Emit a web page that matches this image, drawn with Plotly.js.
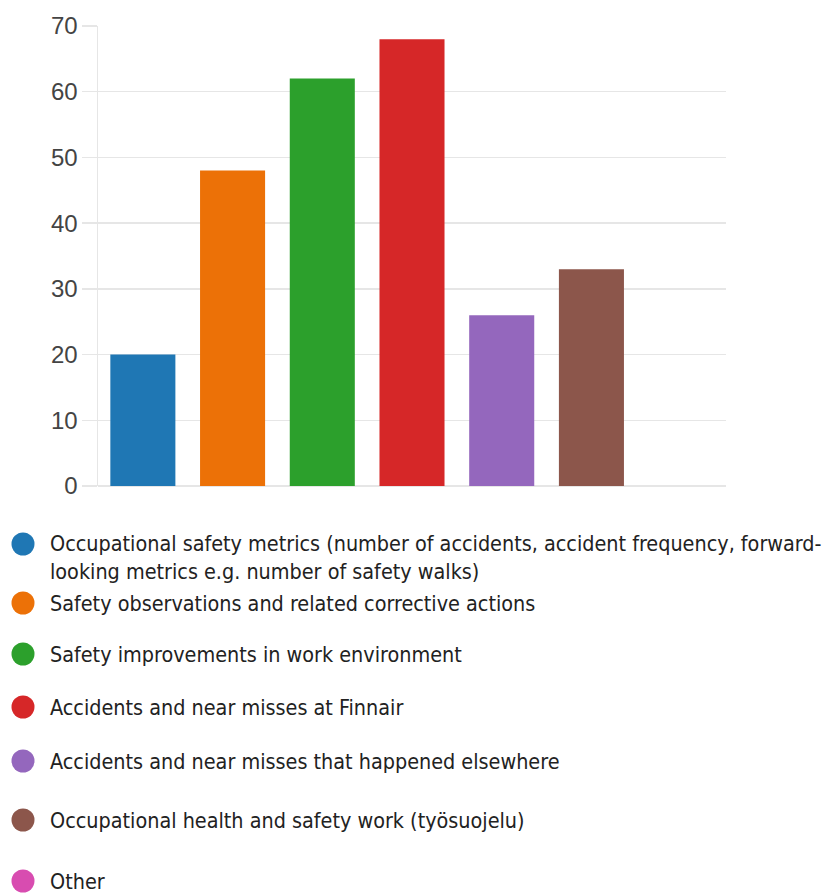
<!DOCTYPE html>
<html>
<head>
<meta charset="utf-8">
<script src="https://cdn.plot.ly/plotly-3.0.1.min.js"></script>
<style>html,body{margin:0;padding:0;background:#fff;}#chart{width:822px;height:893px;}</style>
</head>
<body>
<div id="chart"></div>
<script>
const categories = [
  "Occupational safety metrics (number of accidents, accident frequency, forward-<br>looking metrics e.g. number of safety walks)",
  "Safety observations and related corrective actions",
  "Safety improvements in work environment",
  "Accidents and near misses at Finnair",
  "Accidents and near misses that happened elsewhere",
  "Occupational health and safety work (työsuojelu)",
  "Other"
];
const values = [20, 48, 62, 68, 26, 33, 0];
const colors = ["#1f77b4", "#ec7107", "#2ca02c", "#d62728", "#9467bd", "#8c564b", "#d84cb0"];
const yTicks = [0, 10, 20, 30, 40, 50, 60, 70];

// legend layout (pixel rows of the key below the plot)
const W = 822, H = 893;
const M = {l: 98, r: 96, t: 26, b: 407};
const legendRowsPx = [544, 603, 654, 707, 761, 820, 881];
const legendDotX = 23, legendDotR = 11.5, legendTextX = 48;
const legendFont = 21.4, legendLine = 1.3 * legendFont;

const pw = W - M.l - M.r, ph = H - M.t - M.b;
const px2x = p => (p - M.l) / pw;
const px2y = p => (H - M.b - p) / ph;

const xIdx = categories.map((c, i) => i);
const traces = [{
  type: "bar",
  x: xIdx,
  y: values,
  marker: {color: colors},
  showlegend: false,
  hoverinfo: "skip"
}];

const shapes = [], annotations = [];
categories.forEach((c, i) => {
  const cy = legendRowsPx[i];
  shapes.push({
    type: "circle", xref: "paper", yref: "paper",
    x0: px2x(legendDotX - legendDotR), x1: px2x(legendDotX + legendDotR),
    y0: px2y(cy + legendDotR), y1: px2y(cy - legendDotR),
    fillcolor: colors[i], line: {width: 0}
  });
  const nLines = c.split("<br>").length;
  annotations.push({
    xref: "paper", yref: "paper",
    x: px2x(legendTextX), xanchor: "left",
    y: px2y(cy + (nLines - 1) * legendLine / 2), yanchor: "middle",
    text: c, showarrow: false, align: "left",
    font: {family: "Liberation Sans Narrow, DejaVu Sans Condensed, sans-serif", size: legendFont, color: "#222"}
  });
});

const layout = {
  width: W, height: H,
  margin: {l: M.l, r: M.r, t: M.t, b: M.b, autoexpand: false},
  paper_bgcolor: "#fff", plot_bgcolor: "#fff",
  bargap: 0.275,
  showlegend: false,
  xaxis: {
    type: "linear", range: [-0.5, 6.5],
    showticklabels: false, showgrid: false, zeroline: false, showline: false, ticks: ""
  },
  yaxis: {
    range: [0, 70], tickvals: yTicks, ticktext: yTicks.map(String),
    showgrid: true, gridcolor: "#e6e6e6", gridwidth: 1.5,
    zeroline: true, zerolinecolor: "#e6e6e6", zerolinewidth: 1.5,
    showline: true, linecolor: "#e6e6e6", linewidth: 1.5,
    ticks: "outside", ticklen: 15, tickcolor: "#e6e6e6", tickwidth: 1.5,
    ticklabelstandoff: -1,
    tickfont: {family: "Liberation Sans Narrow, sans-serif", size: 24, color: "#444"}
  },
  shapes: shapes,
  annotations: annotations
};

Plotly.newPlot("chart", traces, layout, {displayModeBar: false, staticPlot: true});
</script>
</body>
</html>
